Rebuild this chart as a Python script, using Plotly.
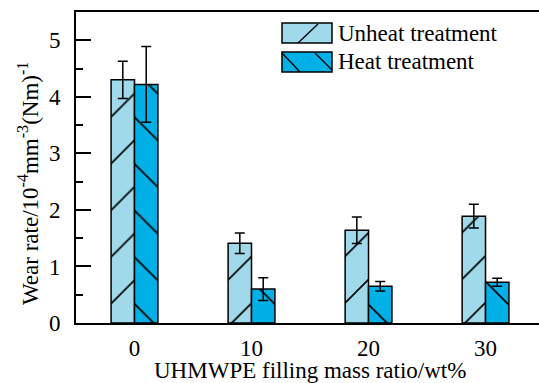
import plotly.graph_objects as go

# ---- data ----
categories = [0, 10, 20, 30]
unheat_values = [4.30, 1.41, 1.64, 1.89]
unheat_errors = [0.33, 0.18, 0.235, 0.21]
heat_values = [4.22, 0.60, 0.65, 0.72]
heat_errors = [0.67, 0.20, 0.085, 0.07]
series_names = ["Unheat treatment", "Heat treatment"]
x_title = "UHMWPE filling mass ratio/wt%"
y_title = "Wear rate/10<sup>-4</sup>mm<sup>-3</sup>(Nm)<sup>-1</sup>"

# ---- style ----
W, H = 539, 383
ML, MR, MT, MB = 76, 0, 12, 60
PW, PH = W - ML - MR, H - MT - MB
FONT = "Liberation Serif"
FS = 23
C_UNHEAT = "#A0D9EA"
C_HEAT = "#00B0E6"


def px_x(p):
    return (p - ML) / PW


def px_y(p):
    return (H - MB - p) / PH


fig = go.Figure()
for name, vals, errs, col, shape in [
    (series_names[0], unheat_values, unheat_errors, C_UNHEAT, "/"),
    (series_names[1], heat_values, heat_errors, C_HEAT, "\\"),
]:
    fig.add_trace(go.Bar(
        x=categories, y=vals, name=name, showlegend=False,
        marker=dict(color=col, line=dict(color="black", width=1.5),
                    pattern=dict(shape=shape, size=33, solidity=0.05,
                                 fgcolor="black", bgcolor=col, fillmode="replace")),
        error_y=dict(type="data", array=errs, visible=True, color="black",
                     thickness=1.5, width=5),
    ))

# custom legend (larger swatches like reference)
shapes = []
annotations = []
legend_rows = [(23, 43, C_UNHEAT, [((298, 43), (318, 24))], series_names[0]),
               (52, 72, C_HEAT, [((282, 53), (300, 72)), ((315, 53), (332, 70))], series_names[1])]
for top, bot, col, lines, label in legend_rows:
    shapes.append(dict(type="rect", xref="paper", yref="paper",
                       x0=px_x(282), x1=px_x(332), y0=px_y(bot), y1=px_y(top),
                       fillcolor=col, line=dict(color="black", width=1.5)))
    for (a, b) in lines:
        shapes.append(dict(type="line", xref="paper", yref="paper",
                           x0=px_x(a[0]), y0=px_y(a[1]), x1=px_x(b[0]), y1=px_y(b[1]),
                           line=dict(color="black", width=1.3)))
    annotations.append(dict(text=label, xref="paper", yref="paper",
                            x=px_x(336), y=px_y((top + bot) / 2), xanchor="left",
                            yanchor="middle", showarrow=False,
                            font=dict(family=FONT, size=FS, color="black")))

annotations.append(dict(text=x_title, xref="paper", yref="paper",
                        x=px_x(310), y=px_y(356), xanchor="center", yanchor="top",
                        showarrow=False, font=dict(family=FONT, size=FS, color="black")))
annotations.append(dict(text=y_title, xref="paper", yref="paper",
                        x=px_x(28), y=px_y(184), xanchor="center", yanchor="middle",
                        textangle=-90, showarrow=False,
                        font=dict(family=FONT, size=FS, color="black")))

fig.update_layout(
    width=W, height=H,
    margin=dict(l=ML, r=MR, t=MT, b=MB, pad=0),
    paper_bgcolor="white", plot_bgcolor="white",
    barmode="group", bargap=0.6, bargroupgap=0,
    font=dict(family=FONT, size=FS, color="black"),
    shapes=shapes, annotations=annotations,
    xaxis=dict(range=[-5, 34.57], tickvals=categories, ticks="",
               showline=True, linecolor="black", linewidth=1.8, mirror=True,
               showgrid=False, zeroline=False, ticklabelstandoff=3,
               tickfont=dict(family=FONT, size=FS, color="black")),
    yaxis=dict(range=[0, 5.5], dtick=1, tick0=0, ticks="inside", ticklen=15,
               tickwidth=1.5, tickcolor="black",
               minor=dict(ticks="inside", ticklen=7, dtick=0.5, tickwidth=1.5,
                          tickcolor="black", showgrid=False),
               showline=True, linecolor="black", linewidth=1.8,
               showgrid=False, zeroline=False, ticklabelstandoff=9,
               tickfont=dict(family=FONT, size=FS, color="black")),
)

fig.write_html("out.html")
